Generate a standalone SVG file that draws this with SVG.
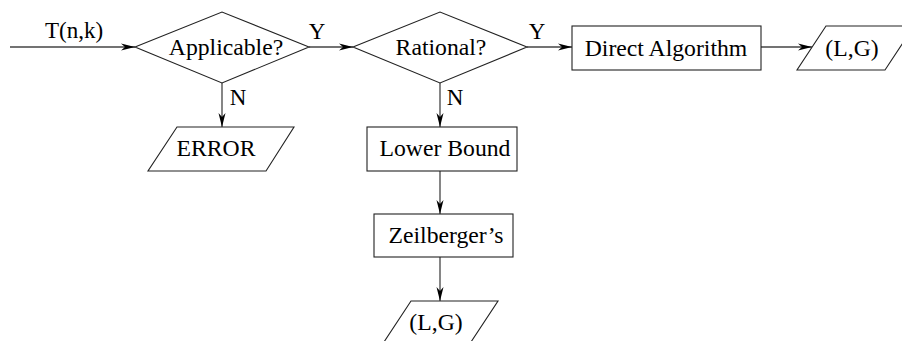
<svg xmlns="http://www.w3.org/2000/svg" width="902" height="341" viewBox="0 0 902 341">
<defs>
<marker id="ah" markerUnits="userSpaceOnUse" viewBox="-14 -5 15 10" refX="0" refY="0" markerWidth="15" markerHeight="10" orient="auto">
<path d="M0,0 L-14,-3.5 L-10,0 L-14,3.5 z" fill="#000"/>
</marker>
</defs>
<style>
.s{fill:#fff;stroke:#222;stroke-width:1.1}
.c{fill:none;stroke:#444;stroke-width:1.3;marker-end:url(#ah)}
text{font-family:"Liberation Serif","Times New Roman",serif;font-size:23.7px;fill:#000;text-anchor:middle}
.l{font-size:23px}
</style>
<rect width="902" height="341" fill="#fff"/>
<g id="connectors">
<line class="c" x1="10" y1="47" x2="135" y2="47"/>
<line class="c" x1="309" y1="47" x2="353" y2="47"/>
<line class="c" x1="527" y1="47" x2="572" y2="47"/>
<line class="c" x1="761" y1="47" x2="812" y2="47"/>
<line class="c" x1="222" y1="83" x2="222" y2="127"/>
<line class="c" x1="440" y1="83" x2="440" y2="127"/>
<line class="c" x1="440" y1="171" x2="440" y2="214"/>
<line class="c" x1="440" y1="257" x2="440" y2="301"/>
<text class="l" x="74" y="38">T(n,k)</text>
<text class="l" x="317" y="39">Y</text>
<text class="l" x="537" y="39">Y</text>
<text class="l" x="238" y="105">N</text>
<text class="l" x="455" y="105">N</text>
</g>
<g id="applicable">
<polygon class="s" points="135,47 222,12 309,47 222,83"/>
<text x="226" y="55">Applicable?</text>
</g>
<g id="rational">
<polygon class="s" points="353,47 440,12 527,47 440,83"/>
<text x="441" y="55">Rational?</text>
</g>
<g id="direct">
<rect class="s" x="572" y="26" width="189" height="44"/>
<text x="666" y="56">Direct Algorithm</text>
</g>
<g id="out-right">
<polygon class="s" points="826,26 914,26 885,70 797,70"/>
<text x="852" y="56">(L,G)</text>
</g>
<g id="error">
<polygon class="s" points="177,127 294,127 266,171 148,171"/>
<text x="216" y="156">ERROR</text>
</g>
<g id="lower-bound">
<rect class="s" x="367" y="127" width="150" height="44"/>
<text x="445" y="156">Lower Bound</text>
</g>
<g id="zeilberger">
<rect class="s" x="374" y="214" width="139" height="43"/>
<text x="446" y="243">Zeilberger’s</text>
</g>
<g id="out-bottom">
<polygon class="s" points="411,301 498,301 469,345 382,345"/>
<text x="436" y="330">(L,G)</text>
</g>
</svg>
